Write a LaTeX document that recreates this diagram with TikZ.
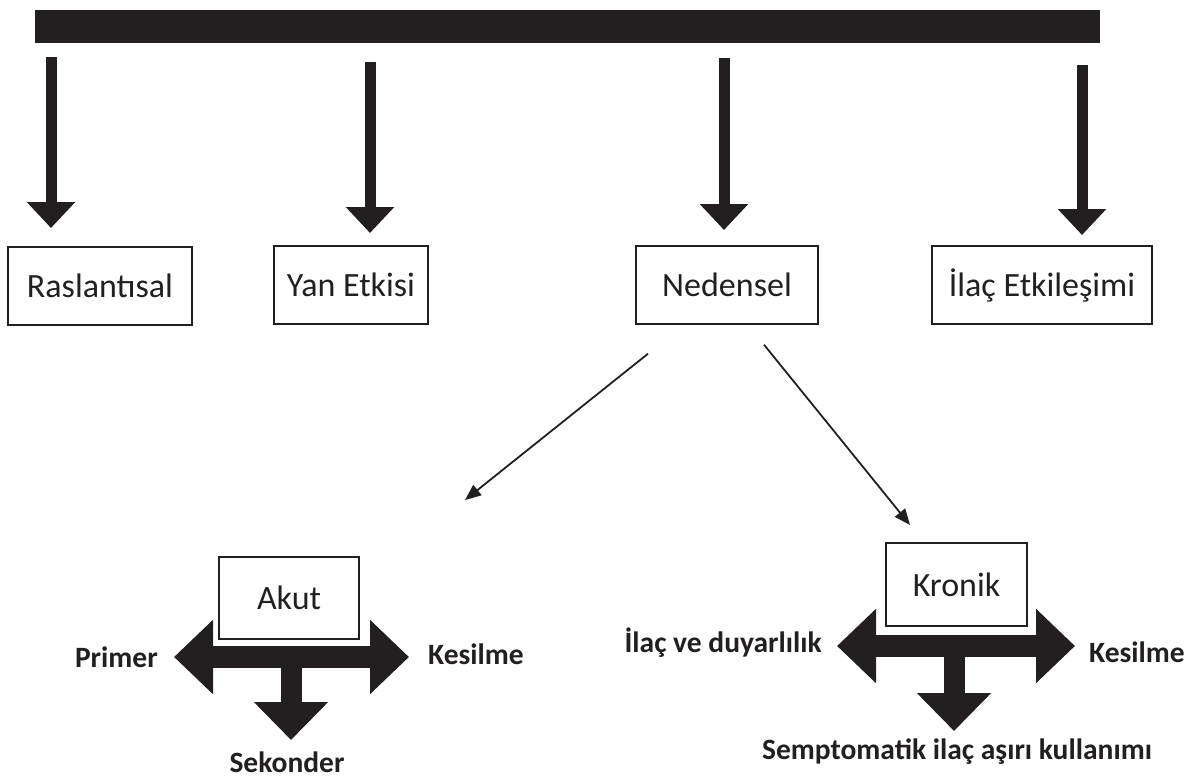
\documentclass[tikz,border=0pt]{standalone}
\usepackage{fontspec}
\setmainfont{Carlito}
\usepackage{xcolor}
\usepackage{tikz}
\definecolor{ink}{RGB}{35,31,32}
\usetikzlibrary{arrows.meta, positioning}

\begin{document}
\begin{tikzpicture}[
  x=1pt, y=-1pt, color=ink,
  box/.style={draw, line width=1.4pt, minimum height=78pt, inner sep=0pt, align=center, font=\fontsize{34}{38}\selectfont},
  bigdown/.style={line width=11pt, -{Triangle[width=47pt, length=26pt]}},
  cross/.style={line width=22pt, {Triangle[width=72pt, length=39pt]}-{Triangle[width=72pt, length=39pt]}},
  crossdown/.style={line width=21pt, -{Triangle[width=72pt, length=38pt]}},
  thinarrow/.style={line width=1.8pt, -{Triangle[width=13pt, length=16pt]}},
  lbl/.style={font=\bfseries\fontsize{29.5}{32}\selectfont, inner sep=0pt}
]
  \useasboundingbox (0,0) rectangle (1190,778);

  % Define X coordinates for the four thick arrows
  \def\aX{51}
  \def\bX{370}
  \def\cX{724}
  \def\dX{1082}

  % Black header bar
  \node[fill=ink, minimum width=1065pt, minimum height=33pt, inner sep=0pt, anchor=north west] (bar) at (35,10) {};

  % First level boxes
  \node[box, minimum width=184pt] (ras) at (100,286) {Raslantısal};
  \node[box, minimum width=154pt] (yan) at (351,285) {Yan Etkisi};
  \node[box, minimum width=182pt] (ned) at (727,285) {Nedensel};
  \node[box, minimum width=220pt] (ila) at (1042,285) {İlaç Etkileşimi};

  % Thick arrows from the bar
  \coordinate (ta) at (\aX,57);
  \coordinate (tb) at (\bX,62);
  \coordinate (tc) at (\cX,58);
  \coordinate (td) at (\dX,65);
  \draw[bigdown] (ta) -- (\aX,228);
  \draw[bigdown] (tb) -- (\bX,233);
  \draw[bigdown] (tc) -- (\cX,230);
  \draw[bigdown] (td) -- (\dX,235);

  % Second level boxes
  \node[box, minimum width=140pt, minimum height=82pt] (akut) at (289,598) {Akut};
  \node[box, minimum width=141pt, minimum height=83pt] (kro) at (956.5,584.5) {Kronik};

  % Thin arrows out of Nedensel
  \coordinate (nl) at ([shift={(-79,29)}]ned.south);
  \coordinate (nr) at ([shift={(37,20)}]ned.south);
  \coordinate (akin) at (465,500);
  \coordinate (kroin) at (910,525);
  \draw[thinarrow] (nl) -- (akin);
  \draw[thinarrow] (nr) -- (kroin);

  % Akut cross arrow
  \coordinate (al) at (174,657);
  \coordinate (ar) at (409,657);
  \coordinate (am) at (291,657);
  \draw[cross] (al) -- (ar);
  \draw[crossdown] (am) -- (291,740);
  \node[lbl, anchor=east] (prim) at (158,657) {Primer};
  \node[lbl, anchor=west] (kes1) at (428,654) {Kesilme};
  \node[lbl] (sek) at (287,762) {Sekonder};

  % Kronik cross arrow
  \coordinate (kl) at (837,646);
  \coordinate (kr) at (1075,646);
  \coordinate (km) at (954,646);
  \draw[cross] (kl) -- (kr);
  \draw[crossdown] (km) -- (954,731);
  \node[lbl, anchor=east] (duy) at (822,643) {İlaç ve duyarlılık};
  \node[lbl, anchor=west] (kes2) at (1089,652) {Kesilme};
  \node[lbl] (semp) at (957,752) {Semptomatik ilaç aşırı kullanımı};

\end{tikzpicture}
\end{document}
